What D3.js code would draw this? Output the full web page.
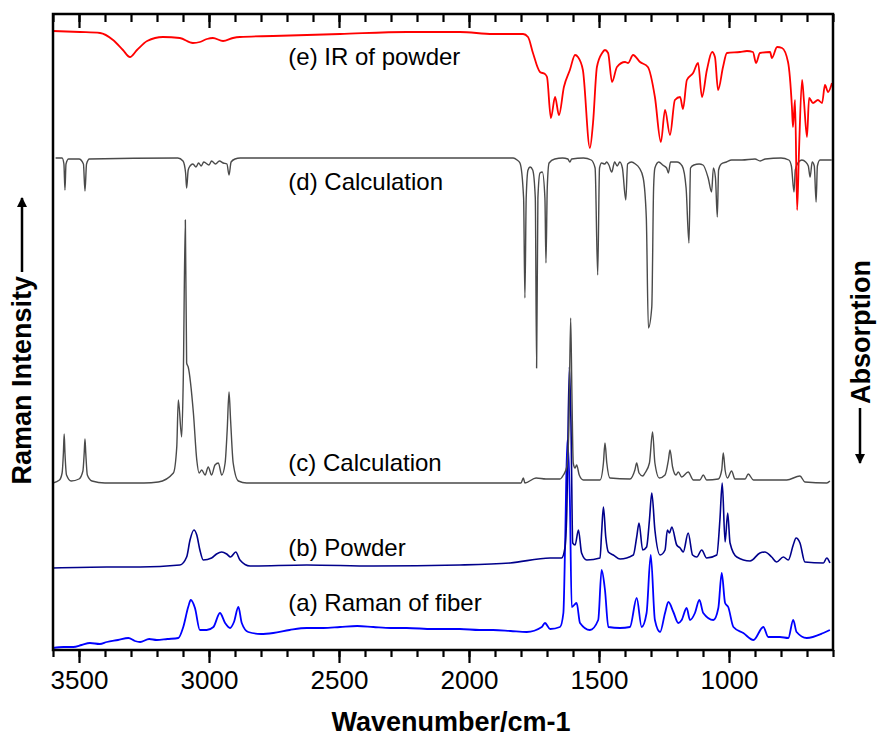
<!DOCTYPE html>
<html>
<head>
<meta charset="utf-8">
<script src="https://cdn.jsdelivr.net/npm/d3@7"></script>
<style>
  body { margin: 0; background: #fff; }
  text { font-family: Arial, "Liberation Sans", sans-serif; }
</style>
</head>
<body>
<svg id="chart" width="879" height="738"></svg>
<script>
// x ticks (wavenumber, cm-1)
const majorTicks = [3500, 3000, 2500, 2000, 1500, 1000];
const minorTicks = d3.range(3600, 599, -100);

// spectra: [wavenumber, intensity relative to the trace baseline]
const ramanFiber = [
  [3600, 0], [3560, 1], [3522, 1], [3490, 3], [3458, 5], [3420, 4], [3393, 6], [3350, 8], [3310, 10],
  [3285, 7], [3265, 6], [3230, 9], [3201, 8], [3160, 9], [3118, 10],
  [3099, 21], [3080, 41], [3070, 48], [3054, 40], [3035, 18], [3009, 18], [2983, 21], [2958, 35],
  [2938, 25], [2919, 20], [2904, 26], [2887, 41], [2874, 25], [2849, 16], [2800, 14], [2753, 15],
  [2690, 18], [2624, 20], [2560, 20], [2496, 21], [2430, 22], [2368, 21], [2300, 20], [2240, 20],
  [2140, 19], [2035, 19], [1960, 18], [1907, 18], [1840, 17], [1778, 16], [1720, 21], [1708, 25],
  [1688, 19], [1650, 21], [1637, 35], [1630, 108], [1622, 208], [1612, 148], [1605, 41], [1586, 45],
  [1573, 25], [1535, 18], [1503, 28], [1490, 78], [1477, 58], [1464, 21], [1419, 20], [1381, 21],
  [1355, 50], [1336, 21], [1317, 35], [1301, 93], [1285, 28], [1265, 16], [1246, 35], [1233, 46],
  [1214, 36], [1195, 25], [1182, 28], [1163, 40], [1150, 28], [1131, 35], [1114, 48], [1099, 35],
  [1060, 28], [1041, 40], [1028, 75], [1015, 45], [1003, 41], [983, 21], [945, 15], [906, 8],
  [868, 21], [849, 11], [804, 11], [772, 10], [753, 28], [740, 16], [701, 10], [637, 15], [612, 18]
];

const ramanPowder = [
  [3600, 0], [3393, 1], [3265, 1], [3112, 3], [3086, 11], [3073, 28], [3058, 38], [3047, 33],
  [3035, 18], [3022, 8], [2990, 10], [2971, 14], [2951, 16], [2932, 14], [2917, 11], [2897, 16],
  [2881, 8], [2842, 2], [2624, 3], [2368, 2], [2035, 3], [1842, 5], [1688, 10], [1644, 10],
  [1631, 20], [1624, 55], [1614, 201], [1608, 148], [1601, 25], [1592, 23], [1579, 38], [1567, 15],
  [1547, 8], [1496, 10], [1490, 35], [1483, 61], [1474, 31], [1464, 16], [1445, 13], [1419, 9],
  [1368, 13], [1355, 31], [1346, 45], [1332, 18], [1317, 21], [1306, 48], [1297, 75], [1285, 38],
  [1265, 13], [1246, 18], [1237, 38], [1229, 35], [1220, 41], [1201, 23], [1188, 20], [1176, 16],
  [1157, 35], [1140, 13], [1124, 11], [1105, 18], [1086, 10], [1047, 13], [1035, 48], [1026, 85],
  [1015, 26], [1005, 55], [996, 25], [970, 11], [919, 7], [881, 15], [862, 16], [836, 11],
  [817, 6], [791, 11], [772, 8], [753, 23], [742, 30], [727, 25], [708, 6], [637, 5], [624, 10], [612, 5]
];

const ramanCalc = [
  [3600, 0], [3575, 3], [3565, 10], [3560, 30], [3557, 49], [3554, 30], [3548, 8], [3530, 2],
  [3500, 4], [3485, 12], [3480, 30], [3477, 44], [3474, 30], [3468, 8], [3450, 2], [3400, 0],
  [3250, 0], [3195, 1], [3137, 10], [3124, 36], [3118, 83], [3105, 46], [3099, 103], [3091, 263],
  [3086, 120], [3080, 116], [3060, 70], [3047, 23], [3038, 10], [3028, 13], [3015, 8], [3003, 16],
  [2990, 8], [2977, 18], [2964, 20], [2951, 8], [2938, 20], [2930, 53], [2923, 91], [2917, 63],
  [2907, 20], [2887, 2], [2855, 0], [1800, 0], [1791, 5], [1785, 0], [1742, 5], [1704, 4],
  [1650, 4], [1637, 8], [1624, 16], [1616, 53], [1609, 165], [1604, 86], [1599, 20], [1592, 15],
  [1586, 18], [1576, 8], [1560, 3], [1496, 3], [1483, 20], [1477, 40], [1470, 20], [1458, 5],
  [1381, 4], [1362, 13], [1355, 20], [1346, 10], [1332, 7], [1323, 10], [1306, 20], [1294, 51],
  [1285, 20], [1268, 5], [1246, 8], [1233, 23], [1227, 33], [1217, 16], [1204, 8], [1195, 11],
  [1182, 6], [1157, 11], [1137, 3], [1112, 3], [1099, 8], [1086, 3], [1041, 4], [1028, 13],
  [1022, 30], [1015, 13], [1006, 5], [990, 12], [977, 4], [938, 4], [926, 9], [906, 3],
  [823, 3], [778, 3], [727, 7], [708, 1], [624, 0], [612, 2]
];

const irCalc = [
  [3590, 0], [3565, 0], [3558, -6], [3554, -32], [3550, -6], [3540, -1], [3500, -1], [3483, -6],
  [3477, -33], [3471, -6], [3460, -1], [3120, 0], [3100, -3], [3090, -15], [3086, -30], [3080, -12],
  [3073, -8], [3062, -6], [3050, -9], [3040, -5], [3030, -8], [3020, -4], [3000, -7], [2990, -3],
  [2975, -6], [2960, -3], [2945, -5], [2931, -6], [2923, -17], [2915, -4], [2900, -1], [2880, 0],
  [1830, 0], [1815, -2], [1804, -5], [1790, -40], [1785, -140], [1780, -40], [1773, -12], [1765, -9],
  [1755, -12], [1745, -40], [1740, -210], [1735, -40], [1727, -15], [1718, -14], [1708, -40], [1704, -105],
  [1699, -30], [1692, -5], [1670, -1], [1640, 0], [1620, -1], [1612, -4], [1605, -1], [1560, 0],
  [1530, -2], [1515, -10], [1505, -117], [1498, -10], [1490, -5], [1478, -6], [1470, -4], [1462, -7],
  [1451, -14], [1440, -4], [1430, -8], [1420, -4], [1410, -10], [1397, -42], [1390, -6], [1375, -4],
  [1360, -6], [1345, -10], [1330, -20], [1318, -60], [1310, -170], [1297, -149], [1290, -30], [1285, -10],
  [1270, -4], [1255, -7], [1240, -10], [1233, -15], [1225, -4], [1200, -4], [1180, -8], [1165, -30],
  [1154, -85], [1148, -10], [1135, -7], [1115, -6], [1100, -7], [1080, -20], [1067, -34], [1060, -10],
  [1052, -20], [1045, -59], [1040, -12], [1030, -6], [1010, -4], [990, -2], [950, -2], [900, -1],
  [880, -3], [860, -1], [800, 0], [770, -2], [760, -8], [750, -34], [745, -12], [735, -5],
  [720, -2], [705, -4], [695, -8], [688, -19], [680, -4], [672, -8], [665, -44], [660, -8],
  [650, -2], [620, -2], [605, -2]
];

const irPowder = [
  [3600, 0], [3496, -1], [3419, -2], [3369, -9], [3331, -19], [3304, -26], [3277, -19], [3238, -10],
  [3177, -6], [3112, -7], [3062, -12], [3035, -11], [3008, -8], [2985, -7], [2946, -10], [2908, -7],
  [2881, -6], [2754, -5], [2496, -3], [2238, -1], [2035, -1], [1908, -3], [1792, -3], [1773, -6],
  [1754, -22], [1727, -41], [1708, -43], [1700, -46], [1685, -87], [1669, -66], [1654, -84], [1635, -56],
  [1612, -39], [1592, -24], [1581, -26], [1562, -39], [1535, -117], [1523, -92], [1508, -36], [1488, -22],
  [1477, -19], [1465, -22], [1450, -51], [1431, -36], [1400, -31], [1388, -32], [1369, -24], [1342, -31],
  [1312, -36], [1285, -66], [1262, -111], [1246, -79], [1227, -104], [1208, -69], [1188, -66], [1177, -78],
  [1162, -49], [1138, -42], [1119, -32], [1104, -66], [1085, -39], [1065, -21], [1054, -26], [1042, -59],
  [1023, -36], [1008, -22], [958, -21], [931, -20], [908, -21], [896, -32], [881, -22], [842, -21],
  [835, -27], [815, -16], [796, -17], [773, -31], [758, -76], [754, -96], [746, -69], [738, -179],
  [731, -122], [719, -49], [712, -69], [700, -106], [692, -67], [677, -72], [658, -69], [642, -72],
  [631, -54], [619, -61], [604, -52]
];

const traces = [
  { name: "(a) Raman of fiber", data: ramanFiber, offset: 2, color: "#0000ff", width: 1.8, labelY: 611 },
  { name: "(b) Powder", data: ramanPowder, offset: 82, color: "#00008b", width: 1.6, labelY: 556 },
  { name: "(c) Calculation", data: ramanCalc, offset: 167, color: "#4a4a4a", width: 1.4, labelY: 471 },
  { name: "(d) Calculation", data: irCalc, offset: 492, color: "#4a4a4a", width: 1.4, labelY: 190 },
  { name: "(e) IR of powder", data: irPowder, offset: 619, color: "#ff0000", width: 1.8, labelY: 65 }
];

const margin = { top: 14, right: 46, bottom: 88, left: 53 };
const svg = d3.select("#chart");
const width = +svg.attr("width") - margin.left - margin.right;
const height = +svg.attr("height") - margin.top - margin.bottom;

const x = d3.scaleLinear().domain([3600, 600]).range([0, width]);
const y = d3.scaleLinear().domain([0, 636]).range([height, 0]);

const g = svg.append("g").attr("transform", `translate(${margin.left},${margin.top})`);

g.append("defs").append("clipPath").attr("id", "clip")
  .append("rect").attr("width", width).attr("height", height);

// spectra
const plot = g.append("g").attr("clip-path", "url(#clip)");
traces.forEach((t) => {
  const line = d3.line()
    .x((d) => x(d[0]))
    .y((d) => y(d[1] + t.offset))
    .curve(d3.curveMonotoneX);
  plot.append("path")
    .datum(t.data)
    .attr("fill", "none")
    .attr("stroke", t.color)
    .attr("stroke-width", t.width)
    .attr("stroke-linejoin", "round")
    .attr("d", line);
});

// labels on the traces
traces.forEach((t) => {
  g.append("text")
    .attr("x", x(2695))
    .attr("y", t.labelY - margin.top)
    .attr("font-size", 24)
    .text(t.name);
});

// axes
const bottomMajor = g.append("g")
  .attr("transform", `translate(0,${height})`)
  .call(d3.axisBottom(x).tickValues(majorTicks).tickSize(13).tickPadding(8).tickFormat(d3.format("d")));
const bottomMinor = g.append("g")
  .attr("transform", `translate(0,${height})`)
  .call(d3.axisBottom(x).tickValues(minorTicks).tickSize(7).tickFormat(""));
const topMajor = g.append("g")
  .call(d3.axisTop(x).tickValues(majorTicks).tickSize(-14).tickFormat(""));
const topMinor = g.append("g")
  .call(d3.axisTop(x).tickValues(minorTicks).tickSize(-8).tickFormat(""));

[bottomMajor, bottomMinor, topMajor, topMinor].forEach((a) => {
  a.select(".domain").remove();
  a.selectAll(".tick line").attr("stroke", "#000").attr("stroke-width", 2.2);
});
bottomMajor.selectAll(".tick text")
  .attr("font-size", 26)
  .attr("font-family", "Arial, 'Liberation Sans', sans-serif")
  .attr("fill", "#000");

// frame
g.append("rect")
  .attr("width", width)
  .attr("height", height)
  .attr("fill", "none")
  .attr("stroke", "#000")
  .attr("stroke-width", 2.5);

// axis titles
svg.append("text")
  .attr("x", 451)
  .attr("y", 731)
  .attr("text-anchor", "middle")
  .attr("font-size", 27)
  .attr("font-weight", "bold")
  .text("Wavenumber/cm-1");

const defs = svg.append("defs");
defs.append("marker")
  .attr("id", "arrow")
  .attr("viewBox", "0 0 10 10")
  .attr("refX", 9).attr("refY", 5)
  .attr("markerWidth", 4).attr("markerHeight", 6)
  .attr("markerUnits", "strokeWidth")
  .attr("orient", "auto")
  .append("path").attr("d", "M0,0L10,5L0,10Z").attr("fill", "#000");

svg.append("text")
  .attr("transform", "translate(31,276) rotate(-90)")
  .attr("text-anchor", "end")
  .attr("font-size", 27)
  .attr("font-weight", "bold")
  .text("Raman Intensity");
svg.append("line")
  .attr("x1", 22).attr("y1", 272).attr("x2", 22).attr("y2", 198)
  .attr("stroke", "#000").attr("stroke-width", 2.5)
  .attr("marker-end", "url(#arrow)");

svg.append("text")
  .attr("transform", "translate(870,404) rotate(-90)")
  .attr("text-anchor", "start")
  .attr("font-size", 27)
  .attr("font-weight", "bold")
  .text("Absorption");
svg.append("line")
  .attr("x1", 860).attr("y1", 408).attr("x2", 860).attr("y2", 463)
  .attr("stroke", "#000").attr("stroke-width", 2.5)
  .attr("marker-end", "url(#arrow)");
</script>
</body>
</html>
